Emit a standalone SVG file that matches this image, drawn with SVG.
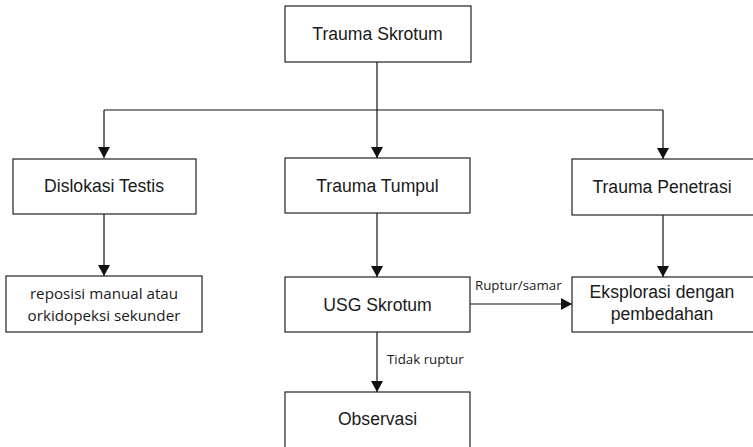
<svg xmlns="http://www.w3.org/2000/svg" width="753" height="447" viewBox="0 0 753 447">
  <style>
    .box { fill: #ffffff; stroke: #222222; stroke-width: 1.2; }
    .lbl { font-family: "Liberation Sans", Arial, sans-serif; font-size: 17.6px; fill: #1a1a1a; text-anchor: middle; }
    .lbl2 { font-family: "Open Sans", "DejaVu Sans", sans-serif; font-size: 15.2px; fill: #1a1a1a; text-anchor: middle; }
    .edge { fill: none; stroke: #111111; stroke-width: 1.2; }
    .elbl { font-family: "Open Sans", "DejaVu Sans", sans-serif; font-size: 13.3px; fill: #1a1a1a; }
  </style>
  <defs>
    <marker id="arrow" markerWidth="12" markerHeight="12" refX="11" refY="6" orient="auto" markerUnits="userSpaceOnUse">
      <path d="M0,0 L11,6 L0,12 Z" fill="#111111"/>
    </marker>
  </defs>
  <rect width="753" height="447" fill="#ffffff"/>

  <g id="connectors">
    <path class="edge" d="M377,62 V110"/>
    <path class="edge" d="M104,110 H663"/>
    <path class="edge" d="M104,110 V158" marker-end="url(#arrow)"/>
    <path class="edge" d="M377,110 V158" marker-end="url(#arrow)"/>
    <path class="edge" d="M663,110 V159" marker-end="url(#arrow)"/>
    <path class="edge" d="M104,214 V276" marker-end="url(#arrow)"/>
    <path class="edge" d="M377,213 V277" marker-end="url(#arrow)"/>
    <path class="edge" d="M663,215 V277" marker-end="url(#arrow)"/>
    <path class="edge" d="M470,304 H572" marker-end="url(#arrow)"/>
    <path class="edge" d="M377,332 V392" marker-end="url(#arrow)"/>
    <text class="elbl" x="475" y="290">Ruptur/samar</text>
    <text class="elbl" x="387" y="364">Tidak ruptur</text>
  </g>

  <g id="trauma-skrotum">
    <rect class="box" x="285" y="6" width="186" height="56"/>
    <text class="lbl" x="377.5" y="40">Trauma Skrotum</text>
  </g>
  <g id="dislokasi-testis">
    <rect class="box" x="13" y="159" width="183" height="55"/>
    <text class="lbl" x="104" y="192">Dislokasi Testis</text>
  </g>
  <g id="trauma-tumpul">
    <rect class="box" x="285" y="158" width="185" height="55"/>
    <text class="lbl" x="377.5" y="192">Trauma Tumpul</text>
  </g>
  <g id="trauma-penetrasi">
    <rect class="box" x="572" y="159" width="183" height="56"/>
    <text class="lbl" x="662" y="193">Trauma Penetrasi</text>
  </g>
  <g id="reposisi">
    <rect class="box" x="6" y="276" width="196" height="56"/>
    <text class="lbl2" x="104" y="299">reposisi manual atau</text>
    <text class="lbl2" x="104" y="321">orkidopeksi sekunder</text>
  </g>
  <g id="usg-skrotum">
    <rect class="box" x="285" y="277" width="185" height="55"/>
    <text class="lbl" x="377.5" y="311">USG Skrotum</text>
  </g>
  <g id="eksplorasi">
    <rect class="box" x="572" y="277" width="183" height="55"/>
    <text class="lbl" x="662" y="298">Eksplorasi dengan</text>
    <text class="lbl" x="662" y="320">pembedahan</text>
  </g>
  <g id="observasi">
    <rect class="box" x="285" y="392" width="185" height="70"/>
    <text class="lbl" x="377.5" y="425">Observasi</text>
  </g>
</svg>
